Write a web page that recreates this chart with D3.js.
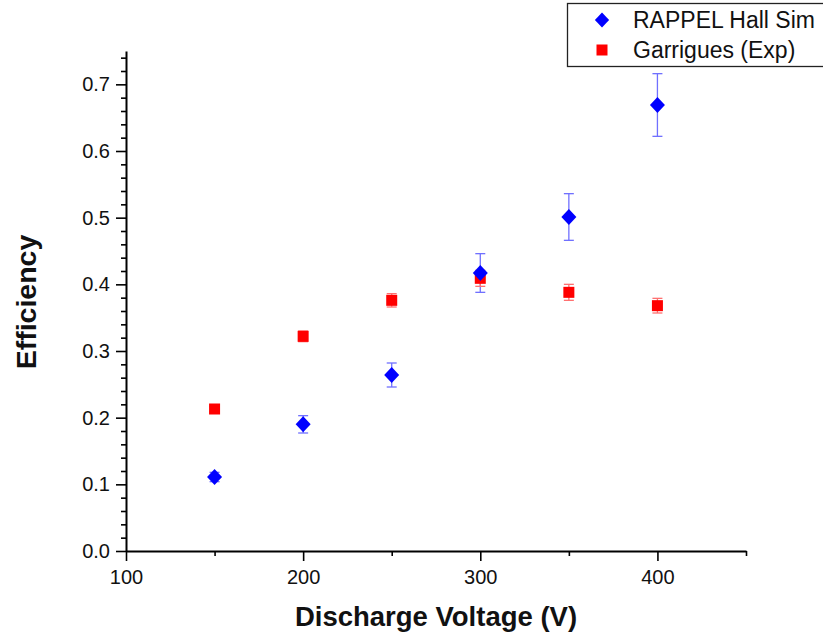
<!DOCTYPE html>
<html><head><meta charset="utf-8">
<script src="https://cdn.jsdelivr.net/npm/d3@7"></script>
<style>body{margin:0;background:#fff}svg{display:block}text{font-family:"Liberation Sans",Arial,sans-serif}</style>
</head><body>
<svg id="c" width="823" height="634"></svg>
<script>
const voltages = [150, 200, 250, 300, 350, 400];
const simValues = [0.111, 0.190, 0.264, 0.417, 0.501, 0.669];
const simErrors = [0.007, 0.013, 0.018, 0.029, 0.035, 0.047];
const expValues = [0.213, 0.322, 0.376, 0.409, 0.388, 0.368];
const expErrors = [0.004, 0.008, 0.010, 0.012, 0.012, 0.011];
const xTicks = [100, 200, 300, 400];
const yTicks = [0, 0.1, 0.2, 0.3, 0.4, 0.5, 0.6, 0.7];
const seriesNames = ["RAPPEL Hall Sim", "Garrigues (Exp)"];

const svg = d3.select("#c");
const x = d3.scaleLinear().domain([100, 450]).range([126, 746]);
const y = d3.scaleLinear().domain([0, 0.75]).range([551, 51]);

// minor ticks
const g = svg.append("g");
g.append("g").attr("transform","translate(0,551)")
  .call(d3.axisBottom(x).tickValues(d3.range(150, 451, 100)).tickSize(5).tickFormat(""))
  .call(a=>a.select(".domain").remove());
g.append("g").attr("transform","translate(126,0)")
  .call(d3.axisLeft(y).tickValues(d3.range(0, 0.751, 0.02).filter(v=>Math.abs(v*10-Math.round(v*10))>1e-6)).tickSize(5).tickFormat(""))
  .call(a=>a.select(".domain").remove());
// major axes
const xa = g.append("g").attr("transform","translate(0,551)")
  .call(d3.axisBottom(x).tickValues(xTicks).tickSize(10).tickPadding(9).tickSizeOuter(0).tickFormat(d3.format("d")));
const ya = g.append("g").attr("transform","translate(126,0)")
  .call(d3.axisLeft(y).tickValues(yTicks).tickSize(10).tickPadding(6).tickSizeOuter(0).tickFormat(d3.format(".1f")));
[xa, ya].forEach(a=>{
  a.selectAll("text").attr("font-size", 20).attr("fill", "#111");
});
g.selectAll(".domain, .tick line").attr("stroke","#000").attr("stroke-width",2);
g.selectAll(".tick line").attr("stroke-width",1.6);

// error bars
function errBars(vals, errs, color) {
  const eg = svg.append("g").attr("stroke", color).attr("stroke-width", 1.3).attr("fill","none");
  voltages.forEach((v,i)=>{
    const cx = x(v), y1 = y(vals[i]+errs[i]), y2 = y(vals[i]-errs[i]);
    eg.append("line").attr("x1",cx).attr("x2",cx).attr("y1",y1).attr("y2",y2);
    eg.append("line").attr("x1",cx-5).attr("x2",cx+5).attr("y1",y1).attr("y2",y1);
    eg.append("line").attr("x1",cx-5).attr("x2",cx+5).attr("y1",y2).attr("y2",y2);
  });
}
errBars(simValues, simErrors, "#7070ff");
errBars(expValues, expErrors, "#ff7070");

const diamond = "M0,-8L7.5,0L0,8L-7.5,0Z";
svg.append("g").selectAll("rect").data(voltages).join("rect")
  .attr("x", d=>x(d)-5.5).attr("y",(d,i)=>y(expValues[i])-5.5)
  .attr("width",11).attr("height",11).attr("fill","#ff0000");
svg.append("g").selectAll("path").data(voltages).join("path")
  .attr("d", diamond).attr("transform",(d,i)=>`translate(${x(d)},${y(simValues[i])})`)
  .attr("fill","#0000ff");

// axis titles
svg.append("text").attr("x", 436).attr("y", 626).attr("text-anchor","middle")
  .attr("font-size", 27.5).attr("font-weight","bold").attr("fill","#111").text("Discharge Voltage (V)");
svg.append("text").attr("transform","translate(36,302) rotate(-90)").attr("text-anchor","middle")
  .attr("font-size", 28.5).attr("font-weight","bold").attr("fill","#111").text("Efficiency");

// legend
const lg = svg.append("g");
lg.append("rect").attr("x",567.5).attr("y",3.5).attr("width",260).attr("height",63)
  .attr("fill","#fff").attr("stroke","#222").attr("stroke-width",1.3);
lg.append("path").attr("d", diamond).attr("transform","translate(602,20) scale(0.95)").attr("fill","#0000ff");
lg.append("rect").attr("x",596.5).attr("y",44.5).attr("width",11).attr("height",11).attr("fill","#ff0000");
lg.append("text").attr("x",633).attr("y",28).attr("font-size",23).attr("fill","#111").text(seriesNames[0]);
lg.append("text").attr("x",633).attr("y",58).attr("font-size",23).attr("fill","#111").text(seriesNames[1]);
</script>
</body></html>
